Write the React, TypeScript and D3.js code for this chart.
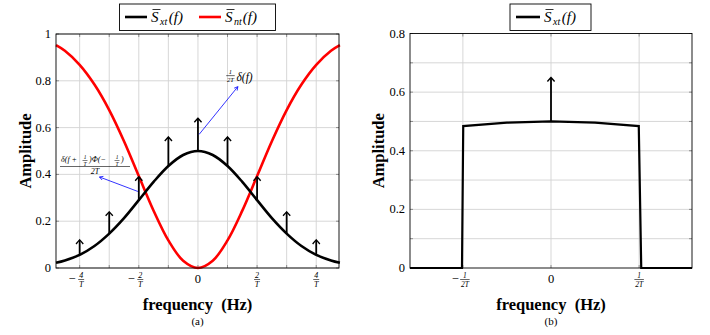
import * as d3 from "d3";

// ---------- panel (a) data ----------
const freqA = [-4.8, -4.5, -4, -3.5, -3, -2.5, -2, -1.5, -1, -0.5, 0, 0.5, 1, 1.5, 2, 2.5, 3, 3.5, 4, 4.5, 4.8];
const sxtA = [0.022, 0.032, 0.056, 0.094, 0.147, 0.213, 0.29, 0.368, 0.436, 0.483, 0.5, 0.483, 0.436, 0.368, 0.29, 0.213, 0.147, 0.094, 0.056, 0.032, 0.022];
const sntA = [0.952, 0.928, 0.868, 0.784, 0.675, 0.542, 0.393, 0.245, 0.118, 0.031, 0, 0.031, 0.118, 0.245, 0.393, 0.542, 0.675, 0.784, 0.868, 0.928, 0.952];

const impulseF = [-4, -3, -2, -1, 0, 1, 2, 3, 4];
const impulseBase = [0.056, 0.147, 0.29, 0.436, 0.5, 0.436, 0.29, 0.147, 0.056];
const impulseTip = [0.12, 0.24, 0.39, 0.56, 0.64, 0.56, 0.39, 0.24, 0.12];

const xTicksA = [-4, -2, 0, 2, 4];
const xTickNumA = ["4", "2", "0", "2", "4"];
const xGridA = [-4, -3, -2, -1, 0, 1, 2, 3, 4];
const yTicksA = [0, 0.2, 0.4, 0.6, 0.8, 1];
const yTickLabelsA = ["0", "0.2", "0.4", "0.6", "0.8", "1"];

// ---------- panel (b) data ----------
const freqB = [-0.8, -0.505, -0.498, -0.25, 0, 0.25, 0.498, 0.512, 0.8];
const sxtB = [0, 0, 0.484, 0.496, 0.5, 0.496, 0.484, 0, 0];
const impulseBF = [0];
const impulseBBase = [0.5];
const impulseBTip = [0.65];

const xTicksB = [-0.5, 0, 0.5];
const yTicksB = [0, 0.2, 0.4, 0.6, 0.8];
const yTickLabelsB = ["0", "0.2", "0.4", "0.6", "0.8"];
const yGridB = [0.1, 0.2, 0.3, 0.4, 0.5, 0.6, 0.7];

const SERIF = "'Liberation Serif', 'DejaVu Serif', serif";
const GRID = "#d3d3d3";

function Frac({ x, y, num, den, size }: { x: number; y: number; num: string; den: string; size: number }) {
  const w = Math.max(num.length, den.length) * size * 0.5 + 2;
  return (
    <g fontFamily={SERIF} fontStyle="italic" fontSize={size} textAnchor="middle">
      <text x={x} y={y - 2}>{num}</text>
      <line x1={x - w / 2} x2={x + w / 2} y1={y} y2={y} stroke="#000" strokeWidth={0.6} />
      <text x={x} y={y + size * 0.95}>{den}</text>
    </g>
  );
}

function SLabel({ x, y, sub }: { x: number; y: number; sub: string }) {
  return (
    <g fontFamily={SERIF} fontStyle="italic" fill="#000">
      <line x1={x + 1.5} x2={x + 9.5} y1={y - 12.5} y2={y - 12.5} stroke="#000" strokeWidth={0.8} />
      <text x={x} y={y} fontSize={15}>S</text>
      <text x={x + 9} y={y + 3} fontSize={10}>{sub}</text>
      <text x={x + 9 + sub.length * 4.4} y={y} fontSize={15}>(f)</text>
    </g>
  );
}

function Impulses({ fs, base, tip, x, y }: { fs: number[]; base: number[]; tip: number[]; x: d3.ScaleLinear<number, number>; y: d3.ScaleLinear<number, number> }) {
  return (
    <g stroke="#000" strokeWidth={1.8} fill="none">
      {fs.map((f, i) => {
        const px = x(f);
        const ty = y(tip[i]);
        return (
          <g key={i}>
            <line x1={px} x2={px} y1={y(base[i])} y2={ty + 0.5} />
            <path d={`M${px - 3.6},${ty + 4} Q${px - 1},${ty + 1.2} ${px},${ty} Q${px + 1},${ty + 1.2} ${px + 3.6},${ty + 4}`} strokeWidth={1.4} />
          </g>
        );
      })}
    </g>
  );
}

function BlueArrow({ x1, y1, x2, y2 }: { x1: number; y1: number; x2: number; y2: number }) {
  const a = Math.atan2(y2 - y1, x2 - x1);
  const L = 4;
  const p1 = [x2 - L * Math.cos(a - 0.5), y2 - L * Math.sin(a - 0.5)];
  const p2 = [x2 - L * Math.cos(a + 0.5), y2 - L * Math.sin(a + 0.5)];
  return (
    <g stroke="#0000ff" strokeWidth={0.8} fill="none">
      <line x1={x1} y1={y1} x2={x2} y2={y2} />
      <path d={`M${p1[0]},${p1[1]} L${x2},${y2} L${p2[0]},${p2[1]}`} />
    </g>
  );
}

export default function App() {
  // ---------------- panel (a) ----------------
  const xA = d3.scaleLinear().domain([-4.8, 4.77]).range([56, 339]);
  const yA = d3.scaleLinear().domain([0, 1]).range([268, 34]);
  const lineA = d3
    .line<number>()
    .x((_, i) => xA(freqA[i]))
    .curve(d3.curveCatmullRom);
  const pathSxt = lineA.y((d) => yA(d))(sxtA) ?? "";
  const pathSnt = lineA.y((d) => yA(d))(sntA) ?? "";

  // ---------------- panel (b) ----------------
  const xB = d3.scaleLinear().domain([-0.8, 0.8]).range([410, 692]);
  const yB = d3.scaleLinear().domain([0, 0.8]).range([268, 33.5]);
  const pathB =
    d3
      .line<number>()
      .x((_, i) => xB(freqB[i]))
      .y((d) => yB(d))(sxtB) ?? "";

  const [a0, a1] = xA.range();
  const [b0, b1] = xB.range();

  return (
    <svg width={710} height={335} style={{ position: "absolute", left: 0, top: 0, background: "#fff" }}>
      {/* ===== panel (a) ===== */}
      <g>
        {xGridA.map((f) => (
          <line key={f} x1={xA(f)} x2={xA(f)} y1={yA(1)} y2={yA(0)} stroke={GRID} strokeWidth={0.9} />
        ))}
        {yTicksA.map((v) => (
          <line key={v} x1={a0} x2={a1} y1={yA(v)} y2={yA(v)} stroke={GRID} strokeWidth={0.9} />
        ))}
        {/* ticks */}
        {xGridA.map((f) => (
          <g key={f} stroke="#555" strokeWidth={0.6}>
            <line x1={xA(f)} x2={xA(f)} y1={yA(0)} y2={yA(0) - 3} />
            <line x1={xA(f)} x2={xA(f)} y1={yA(1)} y2={yA(1) + 3} />
          </g>
        ))}
        {yTicksA.map((v) => (
          <g key={v} stroke="#555" strokeWidth={0.6}>
            <line x1={a0} x2={a0 + 3} y1={yA(v)} y2={yA(v)} />
            <line x1={a1} x2={a1 - 3} y1={yA(v)} y2={yA(v)} />
          </g>
        ))}
        <path d={pathSnt} fill="none" stroke="#ff0000" strokeWidth={2.6} />
        <path d={pathSxt} fill="none" stroke="#000" strokeWidth={2.6} />
        <Impulses fs={impulseF} base={impulseBase} tip={impulseTip} x={xA} y={yA} />
        <rect x={a0} y={yA(1)} width={a1 - a0} height={yA(0) - yA(1)} fill="none" stroke="#000" strokeWidth={0.9} />

        {/* tick labels */}
        {yTicksA.map((v, i) => (
          <text key={v} x={a0 - 5} y={yA(v) + 4} textAnchor="end" fontFamily={SERIF} fontSize={12.5}>
            {yTickLabelsA[i]}
          </text>
        ))}
        {xTicksA.map((f, i) =>
          f === 0 ? (
            <text key={f} x={xA(f)} y={yA(0) + 15} textAnchor="middle" fontFamily={SERIF} fontSize={12.5}>
              0
            </text>
          ) : (
            <g key={f}>
              {f < 0 && (
                <text x={xA(f) - 4} y={yA(0) + 15} textAnchor="end" fontFamily={SERIF} fontSize={12.5}>
                  −
                </text>
              )}
              <Frac x={xA(f) + (f < 0 ? 1.5 : 0)} y={yA(0) + 11.5} num={xTickNumA[i]} den="T" size={8} />
            </g>
          )
        )}

        {/* annotations */}
        <BlueArrow x1={xA(0.04)} y1={yA(0.571)} x2={xA(1.35)} y2={yA(0.775)} />
        <Frac x={xA(1.1)} y={yA(0.822)} num="1" den="2T" size={6.5} />
        <text x={236.5} y={yA(0.8)} fontFamily={SERIF} fontStyle="italic" fontSize={11.5}>
          δ(f)
        </text>

        <BlueArrow x1={xA(-2.03)} y1={yA(0.327)} x2={xA(-3.33)} y2={yA(0.389)} />
        <g fontFamily={SERIF} fontStyle="italic" fontSize={8}>
          <text x={61} y={162}>δ(f +</text>
          <text x={85} y={158.5} fontSize={5.5} textAnchor="middle">1</text>
          <line x1={82.5} x2={87.5} y1={160.5} y2={160.5} stroke="#000" strokeWidth={0.5} />
          <text x={85} y={165.5} fontSize={5.5} textAnchor="middle">T</text>
          <text x={89} y={162}>)Φ(−</text>
          <text x={117} y={158.5} fontSize={5.5} textAnchor="middle">1</text>
          <line x1={114.5} x2={119.5} y1={160.5} y2={160.5} stroke="#000" strokeWidth={0.5} />
          <text x={117} y={165.5} fontSize={5.5} textAnchor="middle">T</text>
          <text x={121} y={162}>)</text>
          <line x1={60} x2={130} y1={166.5} y2={166.5} stroke="#000" strokeWidth={0.6} />
          <text x={95} y={174} textAnchor="middle">2T</text>
        </g>

        {/* axis titles */}
        <text x={(a0 + a1) / 2} y={310} textAnchor="middle" fontFamily={SERIF} fontWeight="bold" fontSize={16.5}>
          frequency{"\u00a0\u00a0"}(Hz)
        </text>
        <text x={(a0 + a1) / 2} y={325} textAnchor="middle" fontFamily={SERIF} fontSize={11}>
          (a)
        </text>
        <text transform={`translate(30.5,${(yA(0) + yA(1)) / 2}) rotate(-90)`} textAnchor="middle" fontFamily={SERIF} fontWeight="bold" fontSize={16.5}>
          Amplitude
        </text>

        {/* legend */}
        <rect x={119.5} y={4} width={156} height={26.5} fill="#fff" stroke="#000" strokeWidth={0.9} />
        <line x1={125} x2={147} y1={17} y2={17} stroke="#000" strokeWidth={2.6} />
        <SLabel x={151} y={22} sub="xt" />
        <line x1={199} x2={221} y1={17} y2={17} stroke="#ff0000" strokeWidth={2.6} />
        <SLabel x={225} y={22} sub="nt" />
      </g>

      {/* ===== panel (b) ===== */}
      <g>
        {xTicksB.map((f) => (
          <line key={f} x1={xB(f)} x2={xB(f)} y1={yB(0.8)} y2={yB(0)} stroke={GRID} strokeWidth={0.9} />
        ))}
        {yGridB.map((v) => (
          <line key={v} x1={b0} x2={b1} y1={yB(v)} y2={yB(v)} stroke={GRID} strokeWidth={0.9} />
        ))}
        {xTicksB.map((f) => (
          <g key={f} stroke="#555" strokeWidth={0.6}>
            <line x1={xB(f)} x2={xB(f)} y1={yB(0)} y2={yB(0) - 3} />
            <line x1={xB(f)} x2={xB(f)} y1={yB(0.8)} y2={yB(0.8) + 3} />
          </g>
        ))}
        {yGridB.concat([0, 0.8]).map((v) => (
          <g key={v} stroke="#555" strokeWidth={0.6}>
            <line x1={b0} x2={b0 + 3} y1={yB(v)} y2={yB(v)} />
            <line x1={b1} x2={b1 - 3} y1={yB(v)} y2={yB(v)} />
          </g>
        ))}
        <path d={pathB} fill="none" stroke="#000" strokeWidth={2.2} />
        <Impulses fs={impulseBF} base={impulseBBase} tip={impulseBTip} x={xB} y={yB} />
        <rect x={b0} y={yB(0.8)} width={b1 - b0} height={yB(0) - yB(0.8)} fill="none" stroke="#000" strokeWidth={0.9} />

        {yTicksB.map((v, i) => (
          <text key={v} x={b0 - 5} y={yB(v) + 4} textAnchor="end" fontFamily={SERIF} fontSize={12.5}>
            {yTickLabelsB[i]}
          </text>
        ))}
        {xTicksB.map((f) =>
          f === 0 ? (
            <text key={f} x={xB(f)} y={yB(0) + 15} textAnchor="middle" fontFamily={SERIF} fontSize={12.5}>
              0
            </text>
          ) : (
            <g key={f}>
              {f < 0 && (
                <text x={xB(f) - 4} y={yB(0) + 15} textAnchor="end" fontFamily={SERIF} fontSize={12.5}>
                  −
                </text>
              )}
              <Frac x={xB(f) + (f < 0 ? 2 : 0)} y={yB(0) + 11.5} num="1" den="2T" size={7.5} />
            </g>
          )
        )}

        <text x={(b0 + b1) / 2} y={310} textAnchor="middle" fontFamily={SERIF} fontWeight="bold" fontSize={16.5}>
          frequency{"\u00a0\u00a0"}(Hz)
        </text>
        <text x={(b0 + b1) / 2} y={325} textAnchor="middle" fontFamily={SERIF} fontSize={11}>
          (b)
        </text>
        <text transform={`translate(383.5,${(yB(0) + yB(0.8)) / 2}) rotate(-90)`} textAnchor="middle" fontFamily={SERIF} fontWeight="bold" fontSize={16.5}>
          Amplitude
        </text>

        <rect x={510} y={4} width={81} height={26.5} fill="#fff" stroke="#000" strokeWidth={0.9} />
        <line x1={516} x2={540} y1={17} y2={17} stroke="#000" strokeWidth={2.6} />
        <SLabel x={544} y={22} sub="xt" />
      </g>
    </svg>
  );
}
